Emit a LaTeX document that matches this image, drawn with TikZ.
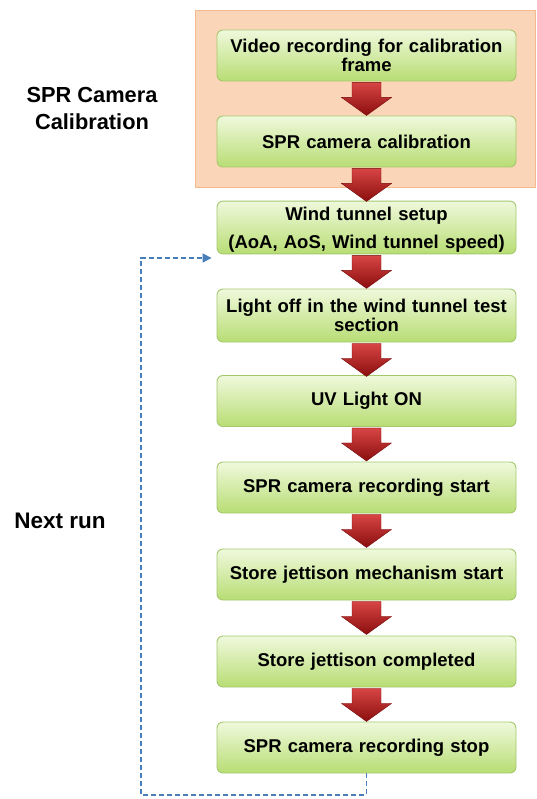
\documentclass[tikz,border=0pt]{standalone}
\usepackage{fontspec}
\setmainfont{Liberation Sans}
\usetikzlibrary{arrows.meta}

\definecolor{boxtop}{HTML}{EFF9DC}
\definecolor{boxbot}{HTML}{B8DD74}
\definecolor{boxline}{HTML}{A5C86C}
\definecolor{arrtop}{HTML}{D84545}
\definecolor{arrbot}{HTML}{8A0E0E}
\definecolor{calfill}{HTML}{FBD5B7}
\definecolor{calline}{HTML}{F4B98E}
\definecolor{loopblue}{HTML}{4A7EBB}

\tikzset{
  stepbox/.style={draw=boxline, line width=0.9pt, rounded corners=6pt,
    top color=boxtop, bottom color=boxbot, minimum width=299pt,
    minimum height=51pt, text width=287pt, inner sep=2pt, align=center,
    font=\fontsize{18.5}{19}\selectfont\bfseries},
  sidelabel/.style={align=center, font=\fontsize{21.8}{27}\selectfont\bfseries},
  pics/downarr/.style={code={
    \shade[top color=arrtop, bottom color=arrbot, draw=arrbot!85!black, line width=0.4pt]
      (-14.5,0) -- (14.5,0) -- (14.5,15) -- (25,15) -- (0,33)
      -- (-25,15) -- (-14.5,15) -- cycle;
  }}
}

\begin{document}
\begin{tikzpicture}[x=1pt, y=-1pt]
\useasboundingbox (0,0) rectangle (536,799);

% calibration block
\draw[fill=calfill, draw=calline, line width=0.8pt] (195,10) rectangle (535,187);
\node[sidelabel] (callab) at (92,108) {SPR Camera\\Calibration};

% steps
\node[stepbox] (vid) at (366.5,55.5) {Video recording for calibration\\frame};
\node[stepbox] (cal) at (366.5,141.5) {SPR camera calibration};
\node[stepbox] (wind) at (366.5,227.5) {\rule{0pt}{17pt}Wind tunnel setup\\[9pt](AoA, AoS, Wind tunnel speed)};
\node[stepbox, minimum height=53pt] (off) at (366.5,315.5) {Light off in the wind tunnel test\\section};
\node[stepbox] (uv) at (366.5,401) {UV Light ON};
\node[stepbox] (recst) at (366.5,487.5) {SPR camera recording start};
\node[stepbox] (jett) at (366.5,574.5) {Store jettison mechanism start};
\node[stepbox] (jdone) at (366.5,661.5) {Store jettison completed};
\node[stepbox] (recsp) at (366.5,747.5) {SPR camera recording stop};

% red block arrows
\foreach \a in {vid,cal,wind,off,uv,recst,jett,jdone}
  \pic at ([yshift=-1pt]\a.south) {downarr};

% loop back
\node[sidelabel, font=\fontsize{22.5}{27}\selectfont\bfseries] (next) at (60,521) {Next run};
\coordinate (lowleft) at (141,795);
\draw[loopblue, line width=1.7pt, dash pattern=on 5pt off 3pt, -{Triangle[length=9pt,width=9pt]}]
  (recsp.south) |- (lowleft) |- ([xshift=-5pt,yshift=-30.5pt]wind.west);
\end{tikzpicture}
\end{document}
